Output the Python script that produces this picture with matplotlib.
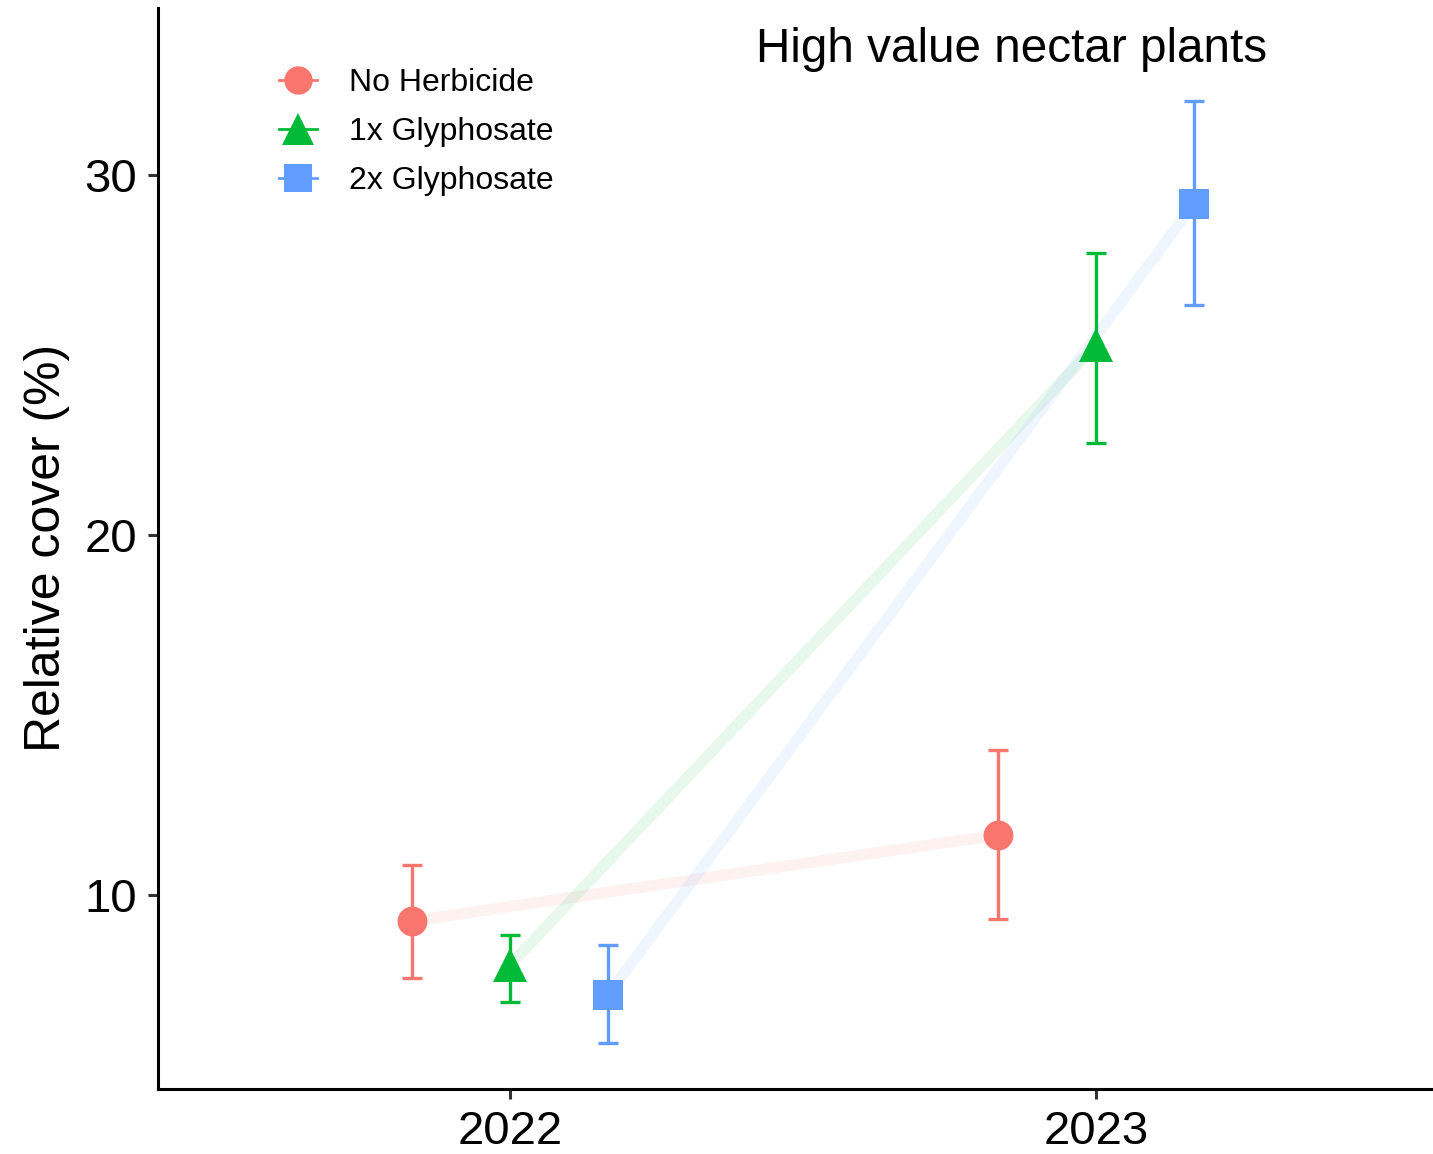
import matplotlib
matplotlib.use("Agg")
import matplotlib.pyplot as plt
from matplotlib.lines import Line2D
import numpy as np

plt.rcParams['font.family'] = ['Liberation Sans', 'DejaVu Sans']

years = ["2022", "2023"]
treatments = ["No Herbicide", "1x Glyphosate", "2x Glyphosate"]
colors = ["#F8766D", "#00BA38", "#619CFF"]
markers = ["o", "^", "s"]
msizes = [21.5, 25, 21.5]

mean_vals = {
    "No Herbicide": [9.28, 11.67],
    "1x Glyphosate": [8.06, 25.28],
    "2x Glyphosate": [7.22, 29.19],
}
lower_vals = {
    "No Herbicide": [7.69, 9.33],
    "1x Glyphosate": [7.03, 22.56],
    "2x Glyphosate": [5.89, 26.39],
}
upper_vals = {
    "No Herbicide": [10.83, 14.03],
    "1x Glyphosate": [8.89, 27.83],
    "2x Glyphosate": [8.61, 32.06],
}

dodge = 0.5
fig = plt.figure(figsize=(14.33, 11.54), dpi=100)
ax = fig.add_axes([158/1433, 1 - 1089/1154, 1 - 158/1433, (1089 - 8)/1154])

base = np.arange(len(years))
n = len(treatments)
for i, t in enumerate(treatments):
    off = (i - (n - 1) / 2) * dodge / n
    xs = base + off
    m = np.array(mean_vals[t])
    lo = np.array(lower_vals[t])
    hi = np.array(upper_vals[t])
    ax.plot(xs, m, color=colors[i], lw=8, alpha=0.09, solid_capstyle='butt', zorder=1)
    ax.errorbar(xs, m, yerr=[m - lo, hi - m], fmt='none', ecolor=colors[i],
                elinewidth=2.4, capsize=7.5, capthick=2.4, zorder=2)
    ax.plot(xs, m, linestyle='none', marker=markers[i], markersize=msizes[i],
            color=colors[i], markeredgewidth=0, zorder=3)

ax.set_xlim(-0.601, 1.575)
ax.set_ylim(4.61, 34.64)
ax.set_xticks(base)
ax.set_xticklabels(years)
ax.set_yticks([10, 20, 30])
ax.tick_params(axis='both', labelsize=34, length=7, width=2.2, color='#333333',
               labelcolor='black', pad=8)
for s in ['top', 'right']:
    ax.spines[s].set_visible(False)
for s in ['left', 'bottom']:
    ax.spines[s].set_linewidth(2.2)
    ax.spines[s].set_color('black')

ax.set_ylabel("Relative cover (%)", fontsize=36, labelpad=12)
ax.yaxis.set_label_coords(-0.0687, (1089 - 548) / (1089 - 8))

fig.text(1012/1433, 1 - 49/1154, "High value nectar plants", fontsize=34.3,
         ha='center', va='center')

handles = [Line2D([], [], color=colors[i], marker=markers[i], markersize=msizes[i] * 0.95,
                  lw=2, markeredgewidth=0) for i in range(n)]
leg = fig.legend(handles, treatments, loc='upper left',
                 bbox_to_anchor=(279/1433, 1 - 68/1154), frameon=False,
                 fontsize=23, handlelength=1.2, handletextpad=1.0,
                 labelspacing=0.6, borderpad=0, borderaxespad=0)

fig.savefig("out.png", dpi=100)
